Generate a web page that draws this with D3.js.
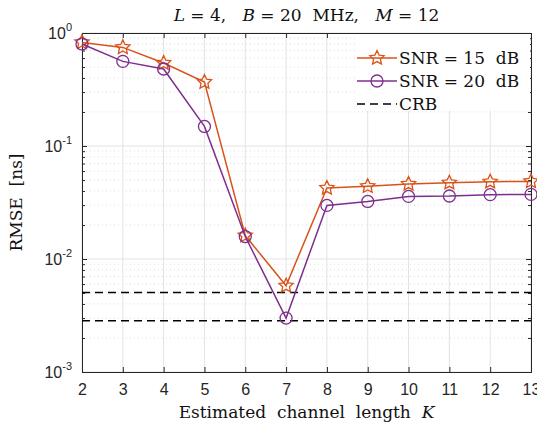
<!DOCTYPE html>
<html>
<head>
<meta charset="utf-8">
<script src="https://cdn.jsdelivr.net/npm/d3@7"></script>
<style>
  body { margin: 0; background: #fff; }
  svg { display: block; }
  .tick-lbl { font-family: "Liberation Sans", Arial, sans-serif; font-size: 16px; fill: #262626; }
  .tex { font-family: "DejaVu Serif", "Liberation Serif", serif; fill: #111; }
</style>
</head>
<body>
<div id="chart"></div>
<script>
// data
const K = [2, 3, 4, 5, 6, 7, 8, 9, 10, 11, 12, 13];
const snr15 = [0.826, 0.746, 0.542, 0.368, 0.0161, 0.0058, 0.0425, 0.0440, 0.0461, 0.0473, 0.0483, 0.0486];
const snr20 = [0.800, 0.561, 0.480, 0.149, 0.0158, 0.0030, 0.0298, 0.0323, 0.0358, 0.0361, 0.0371, 0.0373];
const crb = [0.00506, 0.00284];
const yDecades = [1e-3, 1e-2, 1e-1, 1];
const yExps = [-3, -2, -1, 0];

const W = 537, H = 427;
const m = { left: 82, right: 6, top: 33, bottom: 55 };
const iw = W - m.left - m.right, ih = H - m.top - m.bottom;

const c15 = "#D95319", c20 = "#7E2F8E", axc = "#262626";

let svg = d3.select("#chart").append("svg").attr("width", W).attr("height", H);
let g = svg.append("g").attr("transform", "translate(" + m.left + "," + m.top + ")");

let x = d3.scaleLinear().domain([2, 13]).range([0, iw]);
let y = d3.scaleLog().domain([1e-3, 1]).range([ih, 0]);

// minor grid (dotted)
let minors = [];
for (let d = -3; d < 0; d++)
  for (let k = 2; k <= 9; k++) minors.push(k * Math.pow(10, d));

g.append("g").selectAll("line").data(minors).join("line")
  .attr("x1", 0).attr("x2", iw)
  .attr("y1", d => y(d)).attr("y2", d => y(d))
  .attr("stroke", "#d4d4d4").attr("stroke-width", 0.8).attr("stroke-dasharray", "1,3");

// major grid
g.append("g").selectAll("line").data(K).join("line")
  .attr("x1", d => x(d)).attr("x2", d => x(d)).attr("y1", 0).attr("y2", ih)
  .attr("stroke", "#e3e3e3").attr("stroke-width", 1);
g.append("g").selectAll("line").data(yDecades).join("line")
  .attr("x1", 0).attr("x2", iw).attr("y1", d => y(d)).attr("y2", d => y(d))
  .attr("stroke", "#e3e3e3").attr("stroke-width", 1);

// axes with inward ticks
let xB = g.append("g").attr("transform", "translate(0," + ih + ")")
  .call(d3.axisBottom(x).tickValues(K).tickSize(-5).tickPadding(12).tickFormat(d3.format("d")));
let xT = g.append("g").call(d3.axisTop(x).tickValues(K).tickSize(-5).tickFormat(""));
let yL = g.append("g").call(d3.axisLeft(y).tickValues(yDecades).tickSize(-5).tickFormat(""));
let yR = g.append("g").attr("transform", "translate(" + iw + ",0)")
  .call(d3.axisRight(y).tickValues(yDecades).tickSize(-5).tickFormat(""));
let yLm = g.append("g").call(d3.axisLeft(y).tickValues(minors).tickSize(-3).tickFormat(""));
let yRm = g.append("g").attr("transform", "translate(" + iw + ",0)")
  .call(d3.axisRight(y).tickValues(minors).tickSize(-3).tickFormat(""));

[xB, xT, yL, yR, yLm, yRm].forEach(a => {
  a.select(".domain").attr("stroke", axc).attr("stroke-width", 1);
  a.selectAll(".tick line").attr("stroke", axc);
});
xB.selectAll(".tick text").attr("class", "tick-lbl").attr("font-size", null).attr("font-family", null);

// y tick labels 10^n
yDecades.forEach((d, i) => {
  let t = g.append("text").attr("class", "tick-lbl")
    .attr("x", -10).attr("y", y(d) + 6).attr("text-anchor", "end");
  t.append("tspan").text("10");
  t.append("tspan").attr("dy", -8).attr("font-size", 11).text(yExps[i]);
});

// CRB lines
g.append("g").selectAll("line").data(crb).join("line")
  .attr("x1", 0).attr("x2", iw).attr("y1", d => y(d)).attr("y2", d => y(d))
  .attr("stroke", "#000").attr("stroke-width", 1.5).attr("stroke-dasharray", "8,5");

let line = d3.line().x((d, i) => x(K[i])).y(d => y(d));

function starPath(r) {
  let pts = [];
  for (let i = 0; i < 10; i++) {
    let a = -Math.PI / 2 + i * Math.PI / 5;
    let rr = i % 2 === 0 ? r : r * 0.48;
    pts.push([rr * Math.cos(a), rr * Math.sin(a)]);
  }
  return "M" + pts.map(p => p[0].toFixed(2) + "," + p[1].toFixed(2)).join("L") + "Z";
}

// SNR 15
g.append("path").datum(snr15).attr("d", line)
  .attr("fill", "none").attr("stroke", c15).attr("stroke-width", 1.5);
g.append("g").selectAll("path").data(snr15).join("path")
  .attr("transform", (d, i) => "translate(" + x(K[i]) + "," + y(d) + ")")
  .attr("d", starPath(7.5)).attr("fill", "none").attr("stroke", c15).attr("stroke-width", 1.3);

// SNR 20
g.append("path").datum(snr20).attr("d", line)
  .attr("fill", "none").attr("stroke", c20).attr("stroke-width", 1.5);
g.append("g").selectAll("circle").data(snr20).join("circle")
  .attr("cx", (d, i) => x(K[i])).attr("cy", d => y(d)).attr("r", 6)
  .attr("fill", "none").attr("stroke", c20).attr("stroke-width", 1.3);

// legend
let lg = g.append("g").attr("transform", "translate(" + (iw - 176) + ",1)");
lg.append("rect").attr("x", 0).attr("y", 0).attr("width", 175).attr("height", 77).attr("fill", "#fff");
let legItems = [
  { label: "SNR = 15  dB", color: c15, kind: "star" },
  { label: "SNR = 20  dB", color: c20, kind: "circle" },
  { label: "CRB", color: "#000", kind: "dash" }
];
legItems.forEach((it, i) => {
  let yy = 24 + i * 23;
  lg.append("line").attr("x1", 2).attr("x2", 42).attr("y1", yy).attr("y2", yy)
    .attr("stroke", it.color).attr("stroke-width", 1.5)
    .attr("stroke-dasharray", it.kind === "dash" ? "8,5" : null);
  if (it.kind === "star")
    lg.append("path").attr("transform", "translate(22," + yy + ")").attr("d", starPath(7.5))
      .attr("fill", "none").attr("stroke", it.color).attr("stroke-width", 1.3);
  if (it.kind === "circle")
    lg.append("circle").attr("cx", 22).attr("cy", yy).attr("r", 6)
      .attr("fill", "none").attr("stroke", it.color).attr("stroke-width", 1.3);
  lg.append("text").attr("class", "tex").attr("x", 44).attr("y", yy + 6)
    .attr("font-size", 17).attr("xml:space", "preserve").text(it.label);
});

// title
let title = svg.append("text").attr("class", "tex").attr("x", m.left + iw / 2).attr("y", 21)
  .attr("text-anchor", "middle").attr("font-size", 17).attr("xml:space", "preserve");
title.append("tspan").attr("font-style", "italic").text("L");
title.append("tspan").text(" = 4,   ");
title.append("tspan").attr("font-style", "italic").text("B");
title.append("tspan").text(" = 20  MHz,   ");
title.append("tspan").attr("font-style", "italic").text("M");
title.append("tspan").text(" = 12");

// x label
let xl = svg.append("text").attr("class", "tex").attr("x", m.left + iw / 2).attr("y", 418)
  .attr("text-anchor", "middle").attr("font-size", 17).attr("xml:space", "preserve");
xl.append("tspan").text("Estimated  channel  length  ");
xl.append("tspan").attr("font-style", "italic").text("K");

// y label
svg.append("text").attr("class", "tex")
  .attr("transform", "translate(22," + (m.top + ih / 2) + ") rotate(-90)")
  .attr("text-anchor", "middle").attr("font-size", 17).attr("xml:space", "preserve")
  .text("RMSE  [ns]");
</script>
</body>
</html>
